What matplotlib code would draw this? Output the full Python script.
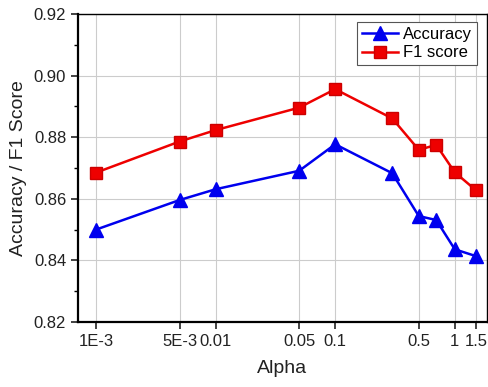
import matplotlib.pyplot as plt
from matplotlib.ticker import FixedLocator, MultipleLocator, NullLocator

plt.rcParams['font.family'] = ['Liberation Sans', 'DejaVu Sans']

alpha = [0.001, 0.005, 0.01, 0.05, 0.1, 0.3, 0.5, 0.7, 1, 1.5]
accuracy = [0.8500, 0.8596, 0.8631, 0.8691, 0.8777, 0.8683, 0.8544, 0.8531, 0.8436, 0.8414]
f1_score = [0.8685, 0.8786, 0.8823, 0.8896, 0.8956, 0.8861, 0.8759, 0.8775, 0.8686, 0.8628]
tick_vals = [0.001, 0.005, 0.01, 0.05, 0.1, 0.5, 1, 1.5]
tick_text = ["1E-3", "5E-3", "0.01", "0.05", "0.1", "0.5", "1", "1.5"]

fig = plt.figure(figsize=(4.89, 3.87), dpi=100)
ax = fig.add_axes([78 / 489, 1 - 322 / 387, (487 - 78) / 489, (322 - 14) / 387])

ax.plot(alpha, accuracy, color="#0000ee", marker="^", markersize=10, lw=1.8,
        label="Accuracy")
ax.plot(alpha, f1_score, color="#ee0000", marker="s", markersize=8, lw=1.8,
        markeredgecolor="#cc0000", label="F1 score")

ax.set_xscale("log")
ax.set_xlim(0.000707, 1.86)
ax.set_ylim(0.82, 0.92)
ax.xaxis.set_major_locator(FixedLocator(tick_vals))
ax.xaxis.set_minor_locator(NullLocator())
ax.set_xticklabels(tick_text)
ax.yaxis.set_major_locator(MultipleLocator(0.02))
ax.yaxis.set_minor_locator(MultipleLocator(0.01))
ax.yaxis.set_major_formatter(plt.FormatStrFormatter("%.2f"))

ax.tick_params(axis="both", which="major", labelsize=12, length=5, width=1.2,
               direction="out", color="#222222", labelcolor="#222222")
ax.tick_params(axis="y", which="minor", length=3, width=1.0, direction="out")
ax.grid(True, which="major", color="#cccccc", lw=0.8)
ax.set_axisbelow(True)
for side in ["left", "bottom"]:
    ax.spines[side].set_linewidth(1.6)
for side in ["top", "right"]:
    ax.spines[side].set_linewidth(1.0)

ax.set_xlabel("Alpha", fontsize=14, color="#222222", labelpad=8)
ax.set_ylabel("Accuracy / F1 Score", fontsize=14, color="#222222", labelpad=5)

leg = ax.legend(loc="upper right", fontsize=12, frameon=True, fancybox=False,
                edgecolor="#555555", framealpha=1, handlelength=2.2,
                handletextpad=0.3, borderpad=0.3, labelspacing=0.2,
                borderaxespad=0, bbox_to_anchor=(0.976, 0.974))
leg.get_frame().set_linewidth(0.8)

fig.savefig("out.png", dpi=100)
